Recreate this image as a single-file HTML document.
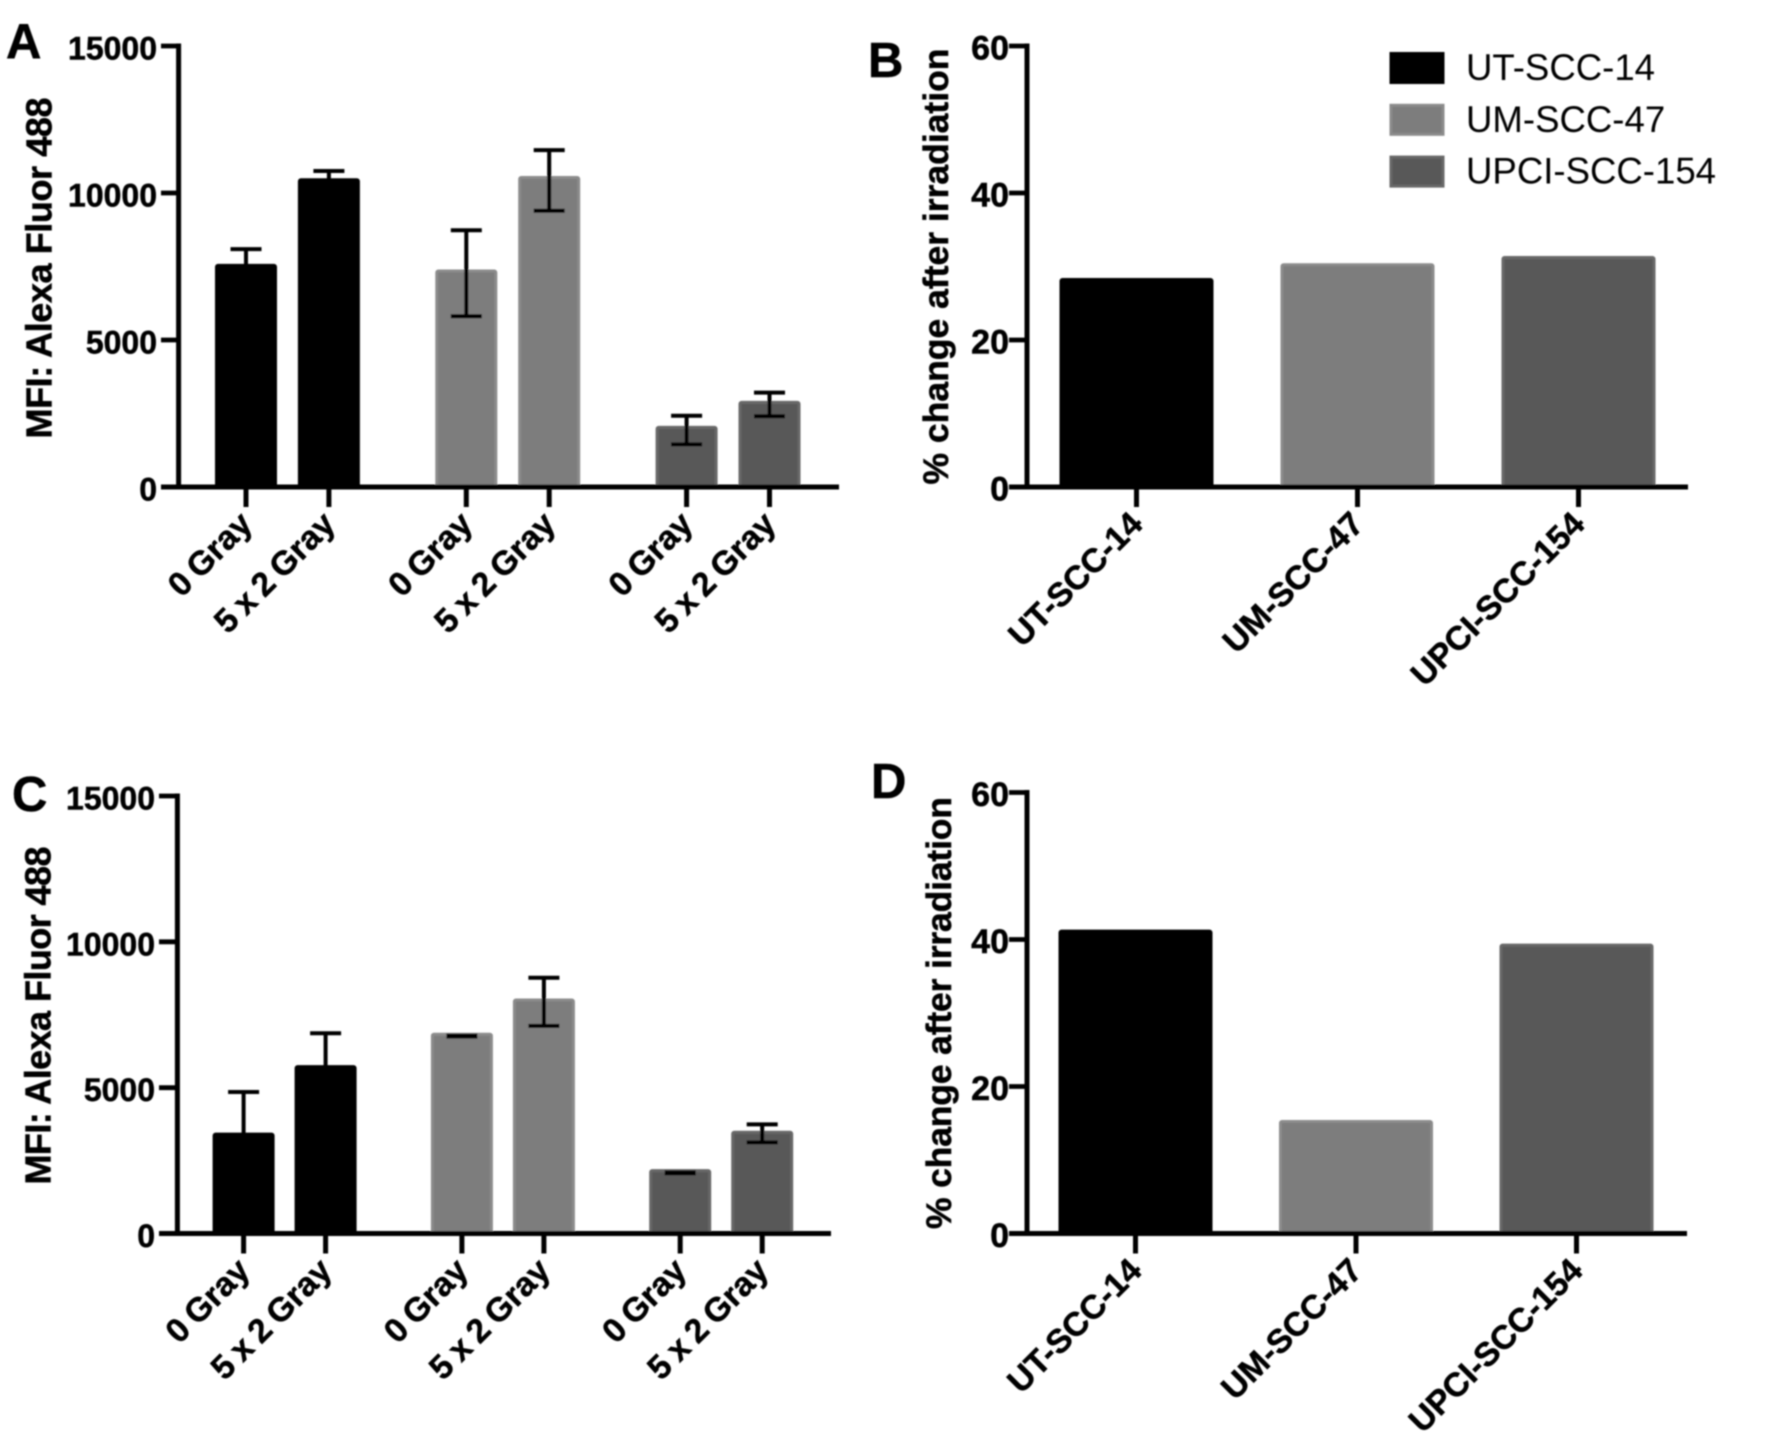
<!DOCTYPE html>
<html lang="en">
<head>
<meta charset="utf-8">
<title>MFI and percent change after irradiation</title>
<style>
html,body{margin:0;padding:0;background:#fff;width:1772px;height:1452px;overflow:hidden}
svg{display:block}
text{font-family:"Liberation Sans",Arial,sans-serif;fill:#000}
.bold{font-weight:700;stroke:#000;stroke-width:0.5}
</style>
</head>
<body>
<svg id="figure" xmlns="http://www.w3.org/2000/svg" width="1772" height="1452" viewBox="0 0 1772 1452">
<defs><filter id="soft" x="0" y="0" width="100%" height="100%" filterUnits="userSpaceOnUse" primitiveUnits="userSpaceOnUse"><feGaussianBlur stdDeviation="0.9"/></filter></defs>
<rect width="1772" height="1452" fill="#fff"/>
<g id="root" filter="url(#soft)">
<text class="bold" x="6" y="58" font-size="49">A</text>
<text class="bold" x="868" y="77" font-size="49">B</text>
<text class="bold" x="12" y="811" font-size="49">C</text>
<text class="bold" x="871" y="798" font-size="49">D</text>
<text class="bold" transform="translate(51.5 438.5) rotate(-90)" font-size="36" textLength="341">MFI: Alexa Fluor 488</text>
<text class="bold" transform="translate(948 484.5) rotate(-90)" font-size="35.5" textLength="436">% change after irradiation</text>
<text class="bold" transform="translate(50.5 1184.5) rotate(-90)" font-size="36" textLength="338">MFI: Alexa Fluor 488</text>
<text class="bold" transform="translate(951 1229) rotate(-90)" font-size="35.5" textLength="432">% change after irradiation</text>
<g id="legend"></g>
</g>
</svg>
<script>
const groupCategories = ['0 Gray', '5 x 2 Gray', '0 Gray', '5 x 2 Gray', '0 Gray', '5 x 2 Gray'];
const cellLines = ['UT-SCC-14', 'UM-SCC-47', 'UPCI-SCC-154'];
const mfiTicks = [0, 5000, 10000, 15000];
const pctTicks = [0, 20, 40, 60];

const panelAValues = [7555, 10467, 7366, 10546, 2046, 2896];
const panelAErrHigh = [8090, 10750, 8735, 11458, 2424, 3211];
const panelAErrLow = [7020, 10180, 5808, 9396, 1448, 2408];

const panelCValues = [3425, 5740, 6850, 8023, 2172, 3488];
const panelCErrHigh = [4852, 6865, 6790, 8768, 2095, 3742];
const panelCErrLow = [2000, 4620, 6750, 7119, 2060, 3123];

const panelBValues = [28.3, 30.3, 31.3];
const panelDValues = [41.2, 15.3, 39.3];

const seriesFill = ['#000000', '#7d7d7d', '#595959'];
const seriesEdge = ['#000000', '#8b8b8b', '#686868'];

const SVGNS = 'http://www.w3.org/2000/svg';
const root = document.getElementById('root');

function make(tag, attrs, parent) {
  const node = document.createElementNS(SVGNS, tag);
  for (const k in attrs) node.setAttribute(k, attrs[k]);
  parent.appendChild(node);
  return node;
}

function drawPanel(p) {
  const g = make('g', {}, root);
  
  
  const yScale = v => p.y0 - (v / p.yMax) * (p.y0 - p.yTop);
  const xScale = i => p.x1 + i * p.step + (p.pairs ? Math.floor(i / 2) * p.gap : 0);
  const seriesOf = i => p.pairs ? Math.floor(i / 2) : i;

  p.values.forEach((v, i) => {
    const c = xScale(i);
    const s = seriesOf(i);
    const bar = make('rect', {
      x: c - p.barW / 2 + 1.5, y: yScale(v) + 0.5,
      width: p.barW - 3, height: Math.max(0, p.y0 - yScale(v) - 0.5),
      rx: 1.5,
      fill: seriesFill[s], stroke: seriesEdge[s], 'stroke-width': 3
    }, g);
    
    
  });

  if (p.errHigh) {
    p.values.forEach((v, i) => {
      const c = xScale(i);
      const hi = yScale(p.errHigh[i]);
      const lo = yScale(p.errLow[i]);
      const path = make('path', {
        d: 'M' + (c - 15.5) + ' ' + hi + 'H' + (c + 15.5) + 'M' + c + ' ' + hi + 'V' + lo + 'M' + (c - 15.5) + ' ' + lo + 'H' + (c + 15.5),
        fill: 'none', stroke: '#000', 'stroke-width': 4
      }, g);
      
      
    });
  }

  const yAxis = make('line', { x1: p.axisX, x2: p.axisX, y1: p.yTop - 2.5, y2: p.y0 + 2.5, stroke: '#000', 'stroke-width': 5 }, g);
  
  
  const xAxis = make('line', { x1: p.tickLeft, x2: p.axisEnd, y1: p.y0, y2: p.y0, stroke: '#000', 'stroke-width': 5 }, g);
  
  

  p.yTicks.forEach(t => {
    const y = yScale(t);
    const tick = make('line', { x1: p.tickLeft, x2: p.axisX, y1: y, y2: y, stroke: '#000', 'stroke-width': 4.8 }, g);
    
    
    const label = make('text', { x: p.tickLeft - p.yLabelGap, y: y + 13.5, 'text-anchor': 'end', 'font-size': p.yLabelSize, class: 'bold' }, g);
    label.textContent = String(t);
    
    
  });

  p.categories.forEach((name, i) => {
    const c = xScale(i);
    const tick = make('line', { x1: c, x2: c, y1: p.y0, y2: p.y0 + 20, stroke: '#000', 'stroke-width': 5 }, g);
    
    
    const ax = c + 8;
    const ay = p.y0 + 39;
    const label = make('text', { transform: 'translate(' + ax + ' ' + ay + ') rotate(-45)', 'text-anchor': 'end', 'font-size': 33.5, 'word-spacing': -2, class: 'bold' }, g);
    label.textContent = name;
    
    
  });
}

drawPanel({ id: 'a', values: panelAValues, errHigh: panelAErrHigh, errLow: panelAErrLow, categories: groupCategories, yTicks: mfiTicks, yMax: 15000,
  y0: 487, yTop: 46, axisX: 178.6, tickLeft: 161, axisEnd: 839, x1: 246, step: 82.9, gap: 54.5, pairs: true, barW: 62, yLabelGap: 4, yLabelSize: 32 });
drawPanel({ id: 'b', values: panelBValues, categories: cellLines, yTicks: pctTicks, yMax: 60,
  y0: 487, yTop: 46, axisX: 1027, tickLeft: 1009, axisEnd: 1688, x1: 1136.5, step: 221, gap: 0, pairs: false, barW: 154, yLabelGap: 0, yLabelSize: 34 });
drawPanel({ id: 'c', values: panelCValues, errHigh: panelCErrHigh, errLow: panelCErrLow, categories: groupCategories, yTicks: mfiTicks, yMax: 15000,
  y0: 1233.5, yTop: 796, axisX: 177.4, tickLeft: 159, axisEnd: 831, x1: 243.6, step: 82, gap: 54.3, pairs: true, barW: 62, yLabelGap: 4, yLabelSize: 32 });
drawPanel({ id: 'd', values: panelDValues, categories: cellLines, yTicks: pctTicks, yMax: 60,
  y0: 1233.5, yTop: 792.5, axisX: 1027, tickLeft: 1009, axisEnd: 1687, x1: 1135.5, step: 220.5, gap: 0, pairs: false, barW: 154, yLabelGap: 0, yLabelSize: 34 });

const legend = document.getElementById('legend');
cellLines.forEach((name, i) => {
  const top = 52 + i * 51.8;
  const sw = make('rect', { x: 1391, y: top + 1.5, width: 52, height: 29, fill: seriesFill[i], stroke: seriesEdge[i], 'stroke-width': 3 }, legend);
  
  
  const label = make('text', { x: 1466, y: top + 28, 'font-size': 36.6 }, legend);
  label.textContent = name;
  
  
});
</script>
</body>
</html>
